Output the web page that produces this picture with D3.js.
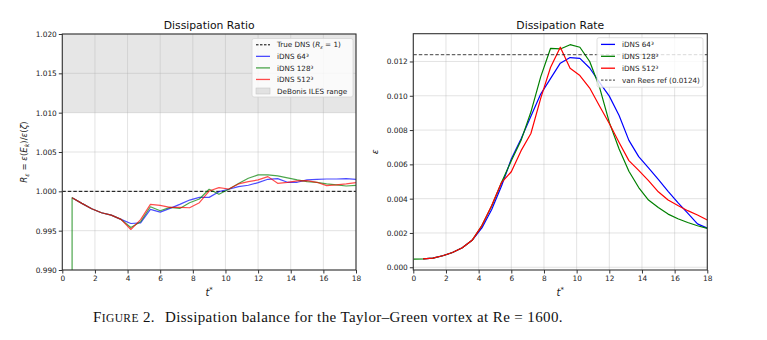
<!DOCTYPE html>
<html>
<head>
<meta charset="utf-8">
<script src="https://cdn.jsdelivr.net/npm/d3@7"></script>
<style>
  body { margin: 0; background: #fff; }
  svg text { font-family: "DejaVu Sans", sans-serif; }
</style>
</head>
<body>
<div id="fig"></div>
<script>
// sample times (t*) for the ratio runs
const tRatio = [0.6, 1.2, 1.8, 2.4, 3.0, 3.6, 4.2, 4.8, 5.4, 6.0, 6.6, 7.2, 7.8, 8.4, 9.0,
                9.6, 10.2, 10.8, 11.4, 12.0, 12.6, 13.2, 13.8, 14.4, 15.0, 15.6, 16.2, 16.8, 17.4, 18.0];
const ratio64  = [0.99919, 0.99847, 0.99779, 0.99728, 0.99698, 0.99643, 0.99591, 0.99600, 0.99770, 0.99736,
                  0.99783, 0.99834, 0.99889, 0.99923, 0.99923, 0.99996, 1.00026, 1.00060, 1.00077, 1.00110,
                  1.00153, 1.00162, 1.00115, 1.00115, 1.00145, 1.00153, 1.00157, 1.00157, 1.00162, 1.00153];
const ratio128 = [0.99919, 0.99847, 0.99779, 0.99728, 0.99698, 0.99643, 0.99540, 0.99613, 0.99804, 0.99753,
                  0.99796, 0.99783, 0.99855, 0.99902, 1.00026, 0.99962, 1.00026, 1.00100, 1.00166, 1.00209,
                  1.00209, 1.00196, 1.00170, 1.00145, 1.00123, 1.00115, 1.00094, 1.00081, 1.00068, 1.00077];
const ratio512 = [0.99919, 0.99847, 0.99779, 0.99728, 0.99698, 0.99643, 0.99515, 0.99640, 0.99834, 0.99821,
                  0.99796, 0.99796, 0.99791, 0.99855, 1.00004, 1.00047, 1.00030, 1.00094, 1.00123, 1.00145,
                  1.00187, 1.00102, 1.00115, 1.00132, 1.00136, 1.00115, 1.00072, 1.00081, 1.00094, 1.00110];
// the 128^3 run reports a start-up value far below the axis at its first sample
const ratio128Startup = 0.95;
const ratioExact = 1.0;
const ilesBand = [1.010, 1.020];

// sample times for the dissipation rate (64^3 and 512^3 start at t = 0.6)
const tRate = [0, 0.6, 1.2, 1.8, 2.4, 3.0, 3.6, 4.2, 4.8, 5.4, 6.0, 6.6, 7.2, 7.8, 8.4, 9.0,
               9.6, 10.2, 10.8, 11.4, 12.0, 12.6, 13.2, 13.8, 14.4, 15.0, 15.6, 16.2, 16.8, 17.4, 18.0];
const rate64  = [null, 0.00049, 0.00053, 0.00067, 0.00086, 0.00114, 0.00157, 0.00229, 0.00337, 0.00474, 0.00631,
                 0.00750, 0.00880, 0.01010, 0.01100, 0.01190, 0.01223, 0.01218, 0.01162, 0.01078, 0.00998,
                 0.00885, 0.00740, 0.00645, 0.00580, 0.00513, 0.00443, 0.00377, 0.00316, 0.00253, 0.00228];
const rate128 = [0.00047, 0.00049, 0.00053, 0.00067, 0.00086, 0.00114, 0.00157, 0.00243, 0.00357, 0.00494, 0.00621,
                 0.00740, 0.00905, 0.01110, 0.01276, 0.01273, 0.01298, 0.01283, 0.01200, 0.01050, 0.00845,
                 0.00690, 0.00560, 0.00465, 0.00392, 0.00348, 0.00310, 0.00283, 0.00261, 0.00242, 0.00227];
const rate512 = [null, 0.00049, 0.00053, 0.00067, 0.00086, 0.00114, 0.00157, 0.00243, 0.00360, 0.00494, 0.00557,
                 0.00680, 0.00780, 0.00985, 0.01165, 0.01283, 0.01160, 0.01118, 0.01045, 0.00940, 0.00838,
                 0.00728, 0.00622, 0.00565, 0.00505, 0.00440, 0.00392, 0.00360, 0.00330, 0.00305, 0.00276];
const vanReesPeak = 0.0124;

const xTicks = [0, 2, 4, 6, 8, 10, 12, 14, 16, 18];
const ratioTicks = [0.990, 0.995, 1.000, 1.005, 1.010, 1.015, 1.020];
const rateTicks = [0.000, 0.002, 0.004, 0.006, 0.008, 0.010, 0.012];

const runLabels = ["iDNS 64³", "iDNS 128³", "iDNS 512³"];
const runColors = ["#0000ff", "#008000", "#ff0000"];

const width = 767, height = 340;
const svg = d3.select("#fig").append("svg")
    .attr("width", width).attr("height", height)
    .attr("viewBox", [0, 0, width, height]);

const fs = 7.4;

function drawAxes(g, x, y, yTicks, yFmt, title, id) {
    const [x0, x1] = x.range(), [y1, y0] = y.range();
    g.append("clipPath").attr("id", id).append("rect")
        .attr("x", x0).attr("y", y0).attr("width", x1 - x0).attr("height", y1 - y0);
    const grid = g.append("g").attr("stroke", "#b0b0b0").attr("stroke-opacity", 0.35).attr("stroke-width", 1);
    xTicks.forEach(t => grid.append("line").attr("x1", x(t)).attr("x2", x(t)).attr("y1", y0).attr("y2", y1));
    yTicks.forEach(t => grid.append("line").attr("x1", x0).attr("x2", x1).attr("y1", y(t)).attr("y2", y(t)));

    g.append("g").attr("transform", `translate(0,${y1})`)
        .call(d3.axisBottom(x).tickValues(xTicks).tickSize(3.5).tickPadding(2).tickFormat(d3.format("d")))
        .call(a => a.select(".domain").remove())
        .call(a => a.selectAll("text").attr("font-size", fs).attr("fill", "#222").attr("font-family", "DejaVu Sans"))
        .call(a => a.selectAll("line").attr("stroke", "#333"));
    g.append("g").attr("transform", `translate(${x0},0)`)
        .call(d3.axisLeft(y).tickValues(yTicks).tickSize(3.5).tickPadding(2).tickFormat(yFmt))
        .call(a => a.select(".domain").remove())
        .call(a => a.selectAll("text").attr("font-size", fs).attr("fill", "#222").attr("font-family", "DejaVu Sans"))
        .call(a => a.selectAll("line").attr("stroke", "#333"));

    g.append("text").attr("x", (x0 + x1) / 2).attr("y", y0 - 5)
        .attr("text-anchor", "middle").attr("font-size", 10.8).attr("fill", "#111").text(title);

    const xl = g.append("text").attr("x", (x0 + x1) / 2).attr("y", y1 + 26)
        .attr("text-anchor", "middle").attr("font-size", 10).attr("fill", "#222");
    xl.append("tspan").attr("font-style", "italic").text("t");
    xl.append("tspan").attr("font-size", 7).attr("dy", -4).text("*");
}

function drawFrame(g, x, y) {
    const [x0, x1] = x.range(), [y1, y0] = y.range();
    g.append("rect").attr("x", x0).attr("y", y0).attr("width", x1 - x0).attr("height", y1 - y0)
        .attr("fill", "none").attr("stroke", "#333").attr("stroke-width", 1.1);
}

function drawLegend(g, bx, by, bw, bh, rows, items) {
    g.append("rect").attr("x", bx).attr("y", by).attr("width", bw).attr("height", bh)
        .attr("rx", 2).attr("fill", "#fff").attr("fill-opacity", 0.8)
        .attr("stroke", "#d6d6d6").attr("stroke-width", 0.8);
    items.forEach((it, i) => {
        const yy = rows[0] + i * rows[1];
        const hx = bx + 4;
        if (it.patch) {
            g.append("rect").attr("x", hx).attr("y", yy - 3).attr("width", 14).attr("height", 6)
                .attr("fill", "#808080").attr("fill-opacity", 0.2).attr("stroke", "#bfbfbf").attr("stroke-width", 0.5);
        } else {
            g.append("line").attr("x1", hx).attr("x2", hx + 14).attr("y1", yy).attr("y2", yy)
                .attr("stroke", it.color).attr("stroke-width", it.width || 1.3)
                .attr("stroke-opacity", it.opacity || 1)
                .attr("stroke-dasharray", it.dash || null);
        }
        const tx = g.append("text").attr("x", hx + 21).attr("y", yy + 2.6)
            .attr("font-size", 7.2).attr("fill", "#222");
        it.label(tx);
    });
}

// ---- left panel: dissipation ratio ----
const xL = d3.scaleLinear([0, 18], [62.3, 356]);
const yL = d3.scaleLinear([0.990, 1.020], [270, 34]);
const gL = svg.append("g");

gL.append("rect")
    .attr("x", xL(0)).attr("width", xL(18) - xL(0))
    .attr("y", yL(ilesBand[1])).attr("height", yL(ilesBand[0]) - yL(ilesBand[1]))
    .attr("fill", "#808080").attr("fill-opacity", 0.2);

drawAxes(gL, xL, yL, ratioTicks, d3.format(".3f"), "Dissipation Ratio", "clipL");

const plotL = gL.append("g").attr("clip-path", "url(#clipL)");
plotL.append("line")
    .attr("x1", xL(0)).attr("x2", xL(18)).attr("y1", yL(ratioExact)).attr("y2", yL(ratioExact))
    .attr("stroke", "#000").attr("stroke-width", 1).attr("stroke-dasharray", "3.5,2");

const lineL = d3.line().x(d => xL(d[0])).y(d => yL(d[1]));
const ratioRuns = [ratio64, ratio128, ratio512].map((vals, i) => {
    const pts = tRatio.map((t, j) => [t, vals[j]]);
    if (i === 1) pts.unshift([tRatio[0], ratio128Startup]);
    return pts;
});
ratioRuns.forEach((pts, i) => {
    plotL.append("path").datum(pts)
        .attr("fill", "none").attr("stroke", runColors[i]).attr("stroke-opacity", 0.7)
        .attr("stroke-width", 1.2).attr("stroke-linejoin", "round").attr("d", lineL);
});
drawFrame(gL, xL, yL);

const ylab = gL.append("text")
    .attr("transform", `translate(27,${(yL(0.990) + yL(1.020)) / 2}) rotate(-90)`)
    .attr("text-anchor", "middle").attr("font-size", 8.6).attr("fill", "#222");
ylab.append("tspan").attr("font-style", "italic").text("R");
ylab.append("tspan").attr("font-style", "italic").attr("font-size", 6.2).attr("dy", 2).text("ε");
ylab.append("tspan").attr("dy", -2).text(" = ");
ylab.append("tspan").attr("font-style", "italic").text("ε");
ylab.append("tspan").text("(");
ylab.append("tspan").attr("font-style", "italic").text("E");
ylab.append("tspan").attr("font-style", "italic").attr("font-size", 6.2).attr("dy", 2).text("k");
ylab.append("tspan").attr("dy", -2).text(")/");
ylab.append("tspan").attr("font-style", "italic").text("ε");
ylab.append("tspan").text("(");
ylab.append("tspan").attr("font-style", "italic").text("ζ");
ylab.append("tspan").text(")");

drawLegend(gL, 252, 38.5, 101, 58.5, [44.8, 11.55], [
    {color: "#000", dash: "2.5,1.5", width: 1, label: t => {
        t.append("tspan").text("True DNS (");
        t.append("tspan").attr("font-style", "italic").text("R");
        t.append("tspan").attr("font-style", "italic").attr("font-size", 5).attr("dy", 1.5).text("ε");
        t.append("tspan").attr("dy", -1.5).text(" = 1)");
    }},
    ...runLabels.map((l, i) => ({color: runColors[i], opacity: 0.7, label: t => t.text(l)})),
    {patch: true, label: t => t.text("DeBonis ILES range")}
]);

// ---- right panel: dissipation rate ----
const xR = d3.scaleLinear([0, 18], [413.3, 707.3]);
const yR = d3.scaleLinear([-0.00016, 0.01362], [270, 33.7]);
const gR = svg.append("g");

drawAxes(gR, xR, yR, rateTicks, d3.format(".3f"), "Dissipation Rate", "clipR");

const plotR = gR.append("g").attr("clip-path", "url(#clipR)");
const lineR = d3.line().defined(d => d[1] != null).x(d => xR(d[0])).y(d => yR(d[1]));
[rate64, rate128, rate512].forEach((vals, i) => {
    plotR.append("path").datum(tRate.map((t, j) => [t, vals[j]]))
        .attr("fill", "none").attr("stroke", runColors[i])
        .attr("stroke-width", 1.2).attr("stroke-linejoin", "round").attr("d", lineR);
});
plotR.append("line")
    .attr("x1", xR(0)).attr("x2", xR(18)).attr("y1", yR(vanReesPeak)).attr("y2", yR(vanReesPeak))
    .attr("stroke", "#000").attr("stroke-opacity", 0.6).attr("stroke-width", 1.3).attr("stroke-dasharray", "3.5,2");
drawFrame(gR, xR, yR);

gR.append("text")
    .attr("transform", `translate(378,${(yR.range()[0] + yR.range()[1]) / 2}) rotate(-90)`)
    .attr("text-anchor", "middle").attr("font-size", 9).attr("font-style", "italic").attr("fill", "#222").text("ε");

drawLegend(gR, 597, 37.7, 106, 49.5, [44.4, 11.9], [
    ...runLabels.map((l, i) => ({color: runColors[i], label: t => t.text(l)})),
    {color: "#000", opacity: 0.6, dash: "2.5,1.5", width: 1.1, label: t => t.text("van Rees ref (" + vanReesPeak + ")")}
]);

// ---- caption ----
const capLeft = 93, capRight = 563;
const cap = svg.append("text").attr("x", capLeft).attr("y", 322)
    .attr("font-size", 15).attr("fill", "#111")
    .style("font-family", "'Liberation Serif', 'DejaVu Serif', serif");
cap.append("tspan").text("F");
cap.append("tspan").attr("font-size", 11.5).text("IGURE");
cap.append("tspan").text(" 2.");
cap.append("tspan").attr("dx", 10).text("Dissipation balance for the Taylor–Green vortex at Re = 1600.");
// spread the letters so the caption spans the same width as the panels above
const capW = cap.node().getBBox().width;
const nChars = cap.text().length;
cap.attr("letter-spacing", ((capRight - capLeft) - capW) / nChars);
</script>
</body>
</html>
